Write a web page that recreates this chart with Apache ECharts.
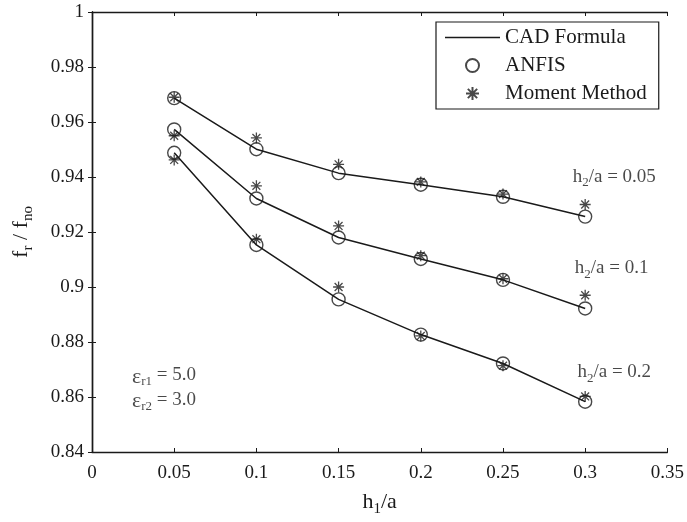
<!DOCTYPE html>
<html>
<head>
<meta charset="utf-8">
<script src="https://cdn.jsdelivr.net/npm/echarts@6/dist/echarts.min.js"></script>
<style>html,body{margin:0;padding:0;background:#fff}#c{width:687px;height:522px}</style>
</head>
<body>
<div id="c"></div>
<script>
// ---- data ----
const xTicks = [0, 0.05, 0.1, 0.15, 0.2, 0.25, 0.3, 0.35];
const yTicks = [0.84, 0.86, 0.88, 0.9, 0.92, 0.94, 0.96, 0.98, 1];
const h1a = [0.05, 0.1, 0.15, 0.2, 0.25, 0.3];
const cad005 = [0.9687, 0.9501, 0.9414, 0.9372, 0.9328, 0.9256];
const cad01  = [0.9573, 0.9322, 0.9180, 0.9102, 0.9026, 0.8922];
const cad02  = [0.9488, 0.9153, 0.8955, 0.8827, 0.8722, 0.8583];
const anfis005 = [0.9687, 0.9501, 0.9414, 0.9372, 0.9328, 0.9256];
const anfis01  = [0.9573, 0.9322, 0.9180, 0.9102, 0.9026, 0.8922];
const anfis02  = [0.9488, 0.9153, 0.8955, 0.8827, 0.8722, 0.8583];
const mom005 = [0.9690, 0.9542, 0.9446, 0.9382, 0.9338, 0.9300];
const mom01  = [0.9550, 0.9368, 0.9222, 0.9114, 0.9030, 0.8970];
const mom02  = [0.9462, 0.9174, 0.9000, 0.8822, 0.8714, 0.8602];
const curveLabels = [
  {x: 0.3177, y: 0.9396, sub: '2', pre: 'h', post: '/a = 0.05'},
  {x: 0.3161, y: 0.9062, sub: '2', pre: 'h', post: '/a = 0.1'},
  {x: 0.3177, y: 0.8684, sub: '2', pre: 'h', post: '/a = 0.2'}
];
const epsLabels = [
  {x: 0.0243, y: 0.8673, sub: 'r1', post: ' = 5.0'},
  {x: 0.0243, y: 0.8583, sub: 'r2', post: ' = 3.0'}
];

// ---- styles ----
const FONT = 'Liberation Serif';
const INK = '#1a1a1a';
const rich = {
  n: {fontFamily: FONT, fontSize: 19, color: INK, lineHeight: 22, verticalAlign: 'top'},
  e: {fontFamily: FONT, fontSize: 22, color: INK, lineHeight: 22, verticalAlign: 'top'},
  s: {fontFamily: FONT, fontSize: 13, color: INK, lineHeight: 14, verticalAlign: 'top', padding: [9, 0, 0, 0]},
  N: {fontFamily: FONT, fontSize: 22, color: INK, lineHeight: 25, verticalAlign: 'top'},
  S: {fontFamily: FONT, fontSize: 15, color: INK, lineHeight: 16, verticalAlign: 'top', padding: [11, 0, 0, 0]}
};
const fmt = v => String(parseFloat(v.toFixed(2)));
const starPath = 'path://M0,-6L0,6M-6,0L6,0M-4.3,-4.3L4.3,4.3M-4.3,4.3L4.3,-4.3';
const zip = (xs, ys) => xs.map((x, i) => [x, ys[i]]);

const series = [];
[cad005, cad01, cad02].forEach(arr => series.push({
  name: 'CAD Formula', type: 'line', data: zip(h1a, arr), symbol: 'none', showSymbol: false,
  lineStyle: {color: INK, width: 1.5}, itemStyle: {color: INK}, z: 2, silent: true
}));
[anfis005, anfis01, anfis02].forEach(arr => series.push({
  name: 'ANFIS', type: 'scatter', data: zip(h1a, arr), symbol: 'circle', symbolSize: 13,
  itemStyle: {color: 'transparent', borderColor: INK, borderWidth: 1.4}, z: 3, silent: true
}));
[mom005, mom01, mom02].forEach(arr => series.push({
  name: 'Moment Method', type: 'scatter', data: zip(h1a, arr), symbol: starPath, symbolSize: 11,
  itemStyle: {color: 'transparent', borderColor: INK, borderWidth: 1.3}, z: 4, silent: true
}));
series.push({
  name: 'curveNotes', type: 'scatter', symbolSize: 0, silent: true, z: 5,
  data: curveLabels.map(c => ({value: [c.x, c.y], lab: '{n|' + c.pre + '}{s|' + c.sub + '}{n|' + c.post + '}'})),
  label: {show: true, position: 'inside', align: 'center', verticalAlign: 'middle',
          formatter: p => p.data.lab, rich: rich}
});
series.push({
  name: 'epsNotes', type: 'scatter', symbolSize: 0, silent: true, z: 5,
  data: epsLabels.map(c => ({value: [c.x, c.y], lab: '{e|ε}{s|' + c.sub + '}{n|' + c.post + '}'})),
  label: {show: true, position: 'inside', align: 'left', verticalAlign: 'middle',
          formatter: p => p.data.lab, rich: rich}
});

const axisLine = {show: true, lineStyle: {color: INK, width: 1.4}};
const tickIn = {show: true, inside: true, length: 4, lineStyle: {color: INK, width: 1}};
const labStyle = {color: INK, fontFamily: FONT, fontSize: 19};

const option = {
  animation: false,
  backgroundColor: '#fff',
  grid: {left: 92, right: 18, top: 12, bottom: 65, containLabel: false},
  legend: {
    data: [
      {name: 'CAD Formula', icon: 'path://M0,0L55,0L55,1.5L0,1.5Z', itemStyle: {color: INK, borderWidth: 0}},
      {name: 'ANFIS'},
      {name: 'Moment Method'}
    ],
    orient: 'vertical', left: 436, top: 22,
    padding: [5, 12, 5, 9], itemGap: 7, itemWidth: 55, itemHeight: 13,
    borderColor: INK, borderWidth: 1.2, backgroundColor: '#fff',
    textStyle: {color: INK, fontFamily: FONT, fontSize: 21},
    selectedMode: false
  },
  xAxis: [{
    type: 'value', min: xTicks[0], max: xTicks[xTicks.length - 1], interval: xTicks[1] - xTicks[0],
    axisLine: axisLine, axisTick: tickIn, splitLine: {show: false},
    axisLabel: Object.assign({margin: 12, formatter: fmt}, labStyle),
    name: '{N|h}{S|1}{N|/a}', nameLocation: 'middle', nameGap: 39,
    nameTextStyle: {rich: rich}
  }, {
    type: 'value', position: 'top', min: xTicks[0], max: xTicks[xTicks.length - 1], interval: xTicks[1] - xTicks[0],
    axisLine: axisLine, axisTick: tickIn, axisLabel: {show: false}, splitLine: {show: false}
  }],
  yAxis: [{
    type: 'value', min: yTicks[0], max: yTicks[yTicks.length - 1], interval: 0.02,
    axisLine: axisLine, axisTick: tickIn, splitLine: {show: false},
    axisLabel: Object.assign({margin: 8, formatter: fmt}, labStyle),
    name: '{N|f}{S|r}{N| / f}{S|no}', nameLocation: 'middle', nameGap: 57, nameRotate: 90,
    nameTextStyle: {rich: rich}
  }, {
    type: 'value', position: 'right', min: yTicks[0], max: yTicks[yTicks.length - 1], interval: 0.02,
    axisLine: axisLine, axisTick: tickIn, axisLabel: {show: false}, splitLine: {show: false}
  }],
  series: series
};
const chart = echarts.init(document.getElementById('c'), null, {renderer: 'canvas'});
chart.setOption(option);
</script>
</body>
</html>
